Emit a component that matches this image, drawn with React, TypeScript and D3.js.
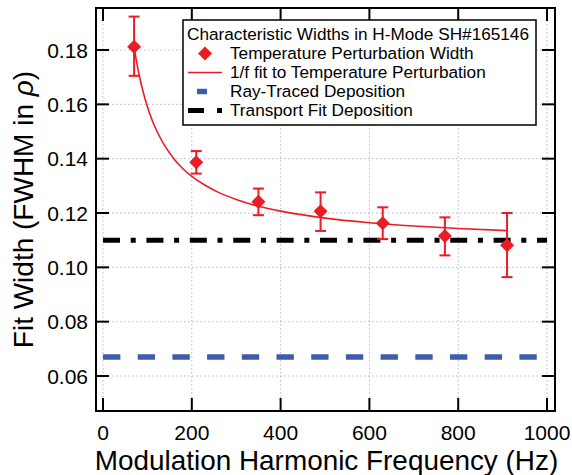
import React from "react";
import * as d3 from "d3";

const freqs = [70, 210, 350, 490, 630, 770, 910];
const widths = [0.1812, 0.1387, 0.1241, 0.1206, 0.1162, 0.1115, 0.1081];
const errUpper = [0.1923, 0.1428, 0.129, 0.1276, 0.1221, 0.1184, 0.12];
const errLower = [0.1705, 0.1345, 0.1192, 0.1134, 0.1104, 0.1044, 0.0964];

const fitFreqs = [70, 80, 90, 100, 110, 125, 140, 160, 180, 200, 230, 260, 300, 350, 400, 450, 500, 600, 700, 800, 910];
const fitWidths = [0.181, 0.1719, 0.1648, 0.1591, 0.1544, 0.1489, 0.1445, 0.1399, 0.1363, 0.1335, 0.1302, 0.1276, 0.125, 0.1225, 0.1207, 0.1193, 0.1181, 0.1164, 0.1152, 0.1143, 0.1135];

const rayTraced = 0.067;
const transportFit = 0.11;
const lineSpan = [0, 1000];

const xTicks = [0, 200, 400, 600, 800, 1000];
const yTicks = [0.06, 0.08, 0.1, 0.12, 0.14, 0.16, 0.18];

const legendTitle = "Characteristic Widths in H-Mode SH#165146";
const legendLabels = [
  "Temperature Perturbation Width",
  "1/f fit to Temperature Perturbation",
  "Ray-Traced Deposition",
  "Transport Fit Deposition",
];

const W = 572;
const H = 475;
const L = 96, R = 555, T = 8, B = 411;
const RED = "#ec1c24";
const BLUE = "#3e5ca9";
const FONT = "'Liberation Sans', Arial, Helvetica, sans-serif";

export default function App() {
  const x = d3.scaleLinear().domain([-15.8, 1018]).range([L, R]);
  const y = d3.scaleLinear().domain([0.04712, 0.19546]).range([B, T]);
  const fitLine = d3
    .line<number>()
    .x((_, i) => x(fitFreqs[i]))
    .y((d) => y(d))
    .curve(d3.curveMonotoneX);
  const tickLen = 13;
  const diamond = (cx: number, cy: number, r: number) =>
    `M${cx},${cy - r}L${cx + r},${cy}L${cx},${cy + r}L${cx - r},${cy}Z`;

  const lx = 183, ly = 20, lw = 353, lh = 105;
  const rowY = [58.5, 77.5, 96.5, 115.5];

  return (
    <svg width={W} height={H} style={{ position: "absolute", left: 0, top: 0, background: "#fff" }} fontFamily={FONT}>
      <rect width={W} height={H} fill="#fff" />
      {/* grid */}
      <g stroke="#b4b4e2" strokeWidth={1} strokeDasharray="1.5,2.5">
        {xTicks.map((t) => (
          <line key={"gx" + t} x1={x(t)} x2={x(t)} y1={T} y2={B} />
        ))}
        {yTicks.map((t) => (
          <line key={"gy" + t} x1={L} x2={R} y1={y(t)} y2={y(t)} />
        ))}
      </g>
      {/* reference lines */}
      <line x1={x(lineSpan[0])} x2={x(lineSpan[1])} y1={y(rayTraced)} y2={y(rayTraced)} stroke={BLUE} strokeWidth={5.5} strokeDasharray="17.35,17.35" />
      <line x1={x(lineSpan[0])} x2={x(lineSpan[1])} y1={y(transportFit)} y2={y(transportFit)} stroke="#000" strokeWidth={5} strokeDasharray="17,10.7,5,10.7" />
      {/* fit */}
      <path d={fitLine(fitWidths) || ""} fill="none" stroke={RED} strokeWidth={1.6} />
      {/* error bars and points */}
      <g stroke={RED} strokeWidth={2}>
        {freqs.map((f, i) => (
          <g key={"e" + i}>
            <line x1={x(f)} x2={x(f)} y1={y(errUpper[i])} y2={y(errLower[i])} />
            <line x1={x(f) - 5.5} x2={x(f) + 5.5} y1={y(errUpper[i])} y2={y(errUpper[i])} />
            <line x1={x(f) - 5.5} x2={x(f) + 5.5} y1={y(errLower[i])} y2={y(errLower[i])} />
          </g>
        ))}
      </g>
      {freqs.map((f, i) => (
        <path key={"p" + i} d={diamond(x(f), y(widths[i]), 7)} fill={RED} />
      ))}
      {/* frame and ticks */}
      <rect x={L} y={T} width={R - L} height={B - T} fill="none" stroke="#000" strokeWidth={2} />
      <g stroke="#000" strokeWidth={2}>
        {xTicks.map((t) => (
          <g key={"tx" + t}>
            <line x1={x(t)} x2={x(t)} y1={B} y2={B - tickLen} />
            <line x1={x(t)} x2={x(t)} y1={T} y2={T + tickLen} />
          </g>
        ))}
        {yTicks.map((t) => (
          <g key={"ty" + t}>
            <line x1={L} x2={L + tickLen} y1={y(t)} y2={y(t)} />
            <line x1={R} x2={R - tickLen} y1={y(t)} y2={y(t)} />
          </g>
        ))}
      </g>
      {/* tick labels */}
      <g fontSize={21} fill="#000">
        {xTicks.map((t) => (
          <text key={"lx" + t} x={x(t)} y={440} textAnchor="middle">
            {d3.format("d")(t)}
          </text>
        ))}
        {yTicks.map((t) => (
          <text key={"ly" + t} x={88} y={y(t) + 7.5} textAnchor="end">
            {d3.format(".2f")(t)}
          </text>
        ))}
      </g>
      {/* axis titles */}
      <text x={(L + R) / 2 + 1} y={470} textAnchor="middle" fontSize={27.9}>
        Modulation Harmonic Frequency (Hz)
      </text>
      <text transform={`translate(33,${(T + B) / 2}) rotate(-90)`} textAnchor="middle" fontSize={28}>
        Fit Width (FWHM in <tspan fontStyle="italic">ρ</tspan>)
      </text>
      {/* legend */}
      <rect x={lx} y={ly} width={lw} height={lh} fill="#fff" stroke="#000" strokeWidth={1.5} />
      <g fontSize={17.2} fill="#000">
        <text x={187} y={39.5}>{legendTitle}</text>
        {legendLabels.map((s, i) => (
          <text key={"lg" + i} x={230} y={rowY[i]}>
            {s}
          </text>
        ))}
      </g>
      <path d={diamond(205, 53.5, 7)} fill={RED} />
      <line x1={188} x2={222} y1={72.5} y2={72.5} stroke={RED} strokeWidth={1.6} />
      <line x1={197} x2={207} y1={91.5} y2={91.5} stroke={BLUE} strokeWidth={5.5} />
      <line x1={188} x2={204} y1={110.5} y2={110.5} stroke="#000" strokeWidth={5} />
      <line x1={217} x2={222} y1={110.5} y2={110.5} stroke="#000" strokeWidth={5} />
    </svg>
  );
}
